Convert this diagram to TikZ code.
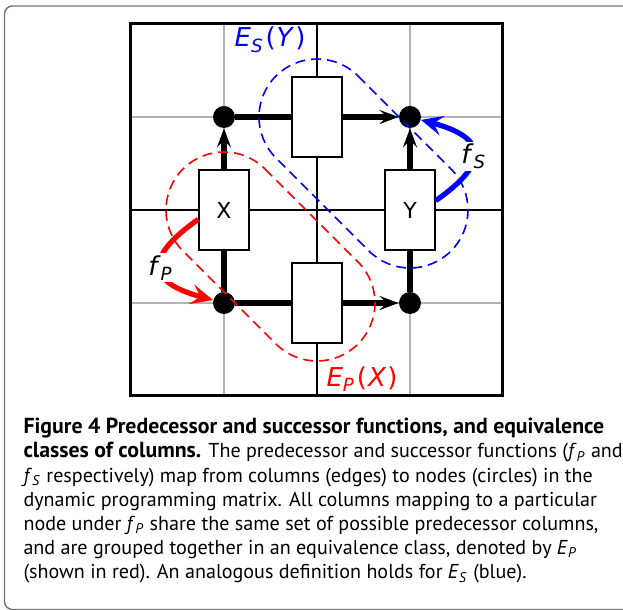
\documentclass[tikz,border=0pt]{standalone}
\usepackage{fontspec}
\setmainfont{PT Sans}
\newfontfamily\figfont{DejaVu Sans}
\usetikzlibrary{arrows.meta,calc}
\definecolor{framegray}{gray}{0.45}
\newcommand{\capbf}[1]{{\fontsize{10.9}{12.1}\selectfont\bfseries #1}}

\begin{document}
\begin{tikzpicture}[
x=46.5pt, y=46.5pt,
dot/.style={circle, fill=black, inner sep=0pt, minimum size=11pt},
col/.style={draw, fill=white, line width=0.75pt, minimum width=25pt, minimum height=40pt, inner sep=0pt, font=\figfont\fontsize{11}{13}\selectfont},
edge/.style={line width=2.6pt, -{Stealth[length=9.5pt,width=7pt,inset=3.5pt]}},
class/.style={dash pattern=on 5pt off 3pt, line width=0.8pt},
fmap/.style={line width=2.6pt, -{Stealth[length=11pt,width=10pt,inset=4.5pt]}},
lab/.style={font=\figfont\fontsize{13}{15}\selectfont}
]
\useasboundingbox (-1.4086,-2.3011) rectangle (5.2903,4.2581);

% frame of the figure
\draw[framegray, line width=0.7pt, rounded corners=4pt] (-1.36,-2.296) rectangle (6,4.194);

% matrix grid
\draw[gray!60, line width=0.6pt] (0,1) -- (4,1) (0,3) -- (4,3) (1,0) -- (1,4) (3,0) -- (3,4);
\draw[line width=1pt] (0,2) -- (4,2) (2,0) -- (2,4);
\draw[line width=1.5pt] (0,0) rectangle (4,4);

% nodes of the matrix
\node[dot] (n11) at (1,1) {};
\node[dot] (n31) at (3,1) {};
\node[dot] (n13) at (1,3) {};
\node[dot] (n33) at (3,3) {};

\draw[edge] (n13) -- (n33);
\draw[edge] (n11) -- (n31);
\draw[edge] (n11) -- (n13);
\draw[edge] (n31) -- (n33);

% columns
\node[col] (top) at (2,3) {};
\node[col] (X) at (1,2) {X};
\node[col] (Y) at (3,2) {Y};
\node[col] (bot) at (2,1) {};

% equivalence classes
\draw[class, blue] ($(top)+(45:29pt)$) -- ($(Y)+(45:29pt)$) arc[start angle=45, end angle=-135, radius=29pt]
  -- ($(top)+(-135:29pt)$) arc[start angle=225, end angle=45, radius=29pt] -- cycle;
\draw[class, red] ($(X)+(45:29pt)$) -- ($(bot)+(45:29pt)$) arc[start angle=45, end angle=-135, radius=29pt]
  -- ($(X)+(-135:29pt)$) arc[start angle=225, end angle=45, radius=29pt] -- cycle;

\node[lab, blue, anchor=base] (ES) at (1.495,3.753) {\textit{E}\textsubscript{\textit{S}}\kern1pt(\kern0.5pt\textit{Y}\kern0.5pt)};
\node[lab, red, anchor=base] (EP) at (2.484,0.097) {\textit{E}\textsubscript{\textit{P}}\kern1pt(\kern0.5pt\textit{X}\kern0.5pt)};

% predecessor and successor functions
\draw[fmap, blue] (Y.20) to[out=35, in=-15, looseness=2.1] node[pos=0.45, lab, fill=white, inner sep=1pt, text=black] {\textit{f}\textsubscript{\textit{S}}} (n33);
\draw[fmap, red] (X.200) to[out=215, in=165, looseness=2.1] node[pos=0.5, lab, fill=white, inner sep=1pt, text=black] {\textit{f}\textsubscript{\textit{P}}} (n11);

% caption
\node[anchor=north west, align=left, inner sep=0pt, font=\fontsize{10.05}{12.1}\selectfont] (cap) at (-1.16,-0.235)
{\capbf{Figure 4 Predecessor and successor functions, and equivalence}\\
\capbf{classes of columns.} The predecessor and successor functions (\textit{f}\textsubscript{\textit{P}} and\\
\textit{f}\textsubscript{\textit{S}} respectively) map from columns (edges) to nodes (circles) in the\\
dynamic programming matrix. All columns mapping to a particular\\
node under \textit{f}\textsubscript{\textit{P}} share the same set of possible predecessor columns,\\
and are grouped together in an equivalence class, denoted by \textit{E}\textsubscript{\textit{P}}\\
(shown in red). An analogous definition holds for \textit{E}\textsubscript{\textit{S}} (blue).};
\end{tikzpicture}
\end{document}
